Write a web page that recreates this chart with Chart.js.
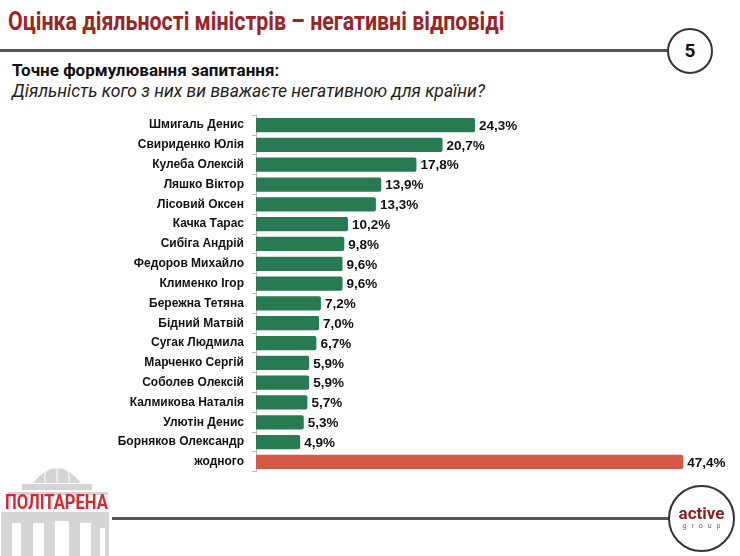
<!DOCTYPE html>
<html>
<head>
<meta charset="utf-8">
<script src="https://cdn.jsdelivr.net/npm/chart.js@4"></script>
<style>
  body { margin: 0; background: #fff; }
  #page { position: relative; width: 740px; height: 556px; overflow: hidden; background: #fff; font-family: 'Roboto', sans-serif; }
  .title { position: absolute; left: 8px; top: 7px; font-size: 25px; font-weight: bold; color: #9b2427; white-space: nowrap; transform: scaleX(0.855); transform-origin: left top; }
  .q1 { position: absolute; left: 12px; top: 60px; font-size: 17px; font-weight: bold; color: #111; white-space: nowrap; }
  .q2 { position: absolute; left: 12px; top: 81px; font-size: 17.5px; font-style: italic; color: #222; white-space: nowrap; }
  .hline { position: absolute; height: 3px; background: #555; }
  .circle { position: absolute; border: 2px solid #333; border-radius: 50%; background: #fff; box-sizing: border-box; text-align: center; }
  .num { font-size: 19px; font-weight: bold; color: #111; }
  .brand { position: absolute; left: 5px; top: 490px; font-size: 21px; font-weight: bold; color: #d7262e; white-space: nowrap; transform: scaleX(0.79); transform-origin: left top; }
  #chartBox { position: absolute; left: 0; top: 100px; width: 740px; height: 387px; }
</style>
</head>
<body>
<div id="page">
  <div class="title">Оцінка діяльності міністрів – негативні відповіді</div>
  <div class="hline" style="left:0; top:49px; width:672px;"></div>
  <div class="circle" style="left:667px; top:28px; width:46px; height:46px; line-height:42px;"><span class="num">5</span></div>
  <div class="q1">Точне формулювання запитання:</div>
  <div class="q2">Діяльність кого з них ви вважаєте негативною для країни?</div>

  <div id="chartBox"><canvas id="ministersChart"></canvas></div>

  <svg style="position:absolute; left:0; top:456px;" width="112" height="100">
    <path d="M33 27 Q57 -3 81 27 Z" fill="#d4d4d4"/>
    <path d="M57 8 L57 27 M46 12 Q44 20 45 27 M68 12 Q70 20 69 27" stroke="#fff" stroke-width="1" fill="none"/>
    <rect x="22" y="28" width="70" height="6" fill="#d4d4d4"/>
    <rect x="8" y="36" width="100" height="3" fill="#d4d4d4"/>
    <rect x="1" y="56" width="108" height="44" fill="#d6d6d6"/>
    <rect x="12" y="67" width="9" height="33" fill="#fff"/>
    <rect x="33" y="67" width="11" height="33" fill="#fff"/>
    <rect x="55" y="65" width="14" height="35" fill="#fff"/>
    <rect x="80" y="67" width="11" height="33" fill="#fff"/>
    <rect x="100" y="72" width="5" height="28" fill="#fff"/>
  </svg>
  <div class="brand">ПОЛІТАРЕНА</div>
  <div class="hline" style="left:112px; top:517px; width:560px;"></div>
  <div class="circle" style="left:668px; top:485px; width:67px; height:67px;">
    <div style="margin-top:18px; font-size:17px; font-weight:bold; color:#8e1c1f; line-height:17px;">active</div>
    <div style="font-size:7px; color:#666; letter-spacing:5px; margin-left:5px;">group</div>
  </div>
</div>

<script>
const ministers = [
  'Шмигаль Денис', 'Свириденко Юлія', 'Кулеба Олексій', 'Ляшко Віктор',
  'Лісовий Оксен', 'Качка Тарас', 'Сибіга Андрій', 'Федоров Михайло',
  'Клименко Ігор', 'Бережна Тетяна', 'Бідний Матвій', 'Сугак Людмила',
  'Марченко Сергій', 'Соболев Олексій', 'Калмикова Наталія', 'Улютін Денис',
  'Борняков Олександр', 'жодного'
];
const negativeShare = [24.3, 20.7, 17.8, 13.9, 13.3, 10.2, 9.8, 9.6, 9.6, 7.2, 7.0, 6.7, 5.9, 5.9, 5.7, 5.3, 4.9, 47.4];
const barColors = ministers.map(name => name === 'жодного' ? '#d35a48' : '#287a52');

// value labels at bar ends, comma decimals
const barLabels = {
  id: 'barLabels',
  afterDatasetsDraw(chart) {
    const ctx = chart.ctx;
    const meta = chart.getDatasetMeta(0);
    ctx.save();
    ctx.font = 'bold 13.5px "Liberation Sans", sans-serif';
    ctx.fillStyle = '#111';
    ctx.textBaseline = 'middle';
    meta.data.forEach((bar, i) => {
      ctx.fillText(negativeShare[i].toFixed(1).replace('.', ',') + '%', bar.x + 4, bar.y + 1);
    });
    ctx.restore();
  }
};

const ministersChart = new Chart(document.querySelector('#ministersChart'), {
  type: 'bar',
  data: {
    labels: ministers,
    datasets: [{
      data: negativeShare,
      backgroundColor: barColors,
      borderRadius: 2,
      categoryPercentage: 0.72,
      barPercentage: 1
    }]
  },
  options: {
    indexAxis: 'y',
    responsive: true,
    maintainAspectRatio: false,
    animation: false,
    layout: { padding: { top: 0, bottom: 0, left: 0, right: 36 } },
    plugins: {
      legend: { display: false },
      tooltip: { enabled: false }
    },
    scales: {
      x: { display: false, min: 0, max: 49.7 },
      y: {
        afterFit(scale) { scale.width = 256; },
        border: { color: '#bbb', width: 1 },
        grid: { display: true, drawOnChartArea: false, offset: true, tickLength: 4, color: '#bbb' },
        ticks: {
          color: '#111',
          padding: 8,
          font: { family: '"Liberation Sans", sans-serif', size: 12, weight: 'bold' }
        }
      }
    }
  },
  plugins: [barLabels]
});
</script>
</body>
</html>
